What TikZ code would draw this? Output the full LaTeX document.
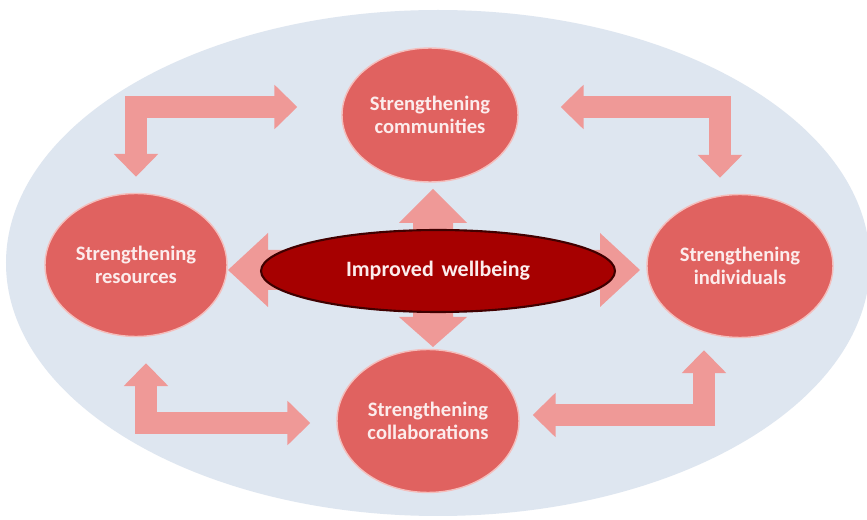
\documentclass[tikz,border=0pt]{standalone}
\usepackage{fontspec}
\setmainfont{Carlito}
\usetikzlibrary{arrows.meta}
\usetikzlibrary{calc}
\usetikzlibrary{positioning}
\usetikzlibrary{shapes.geometric}

\definecolor{backc}{RGB}{222,230,240}
\definecolor{hubc}{RGB}{224,98,96}
\definecolor{hubedge}{RGB}{244,190,188}
\definecolor{arrowc}{RGB}{239,153,151}
\definecolor{corec}{RGB}{166,0,0}
\definecolor{coreedge}{RGB}{64,0,0}
\definecolor{textc}{RGB}{252,236,236}

\begin{document}
\begin{tikzpicture}[x=0.02cm,y=-0.02cm,
		hub/.style={ellipse,fill=hubc,draw=hubedge,line width=0.8pt,minimum width=3.64cm,minimum height=2.86cm,inner sep=0pt,align=center,text=textc,font=\bfseries\fontsize{11.7}{13.2}\selectfont},
		link/.style={draw=arrowc,line width=13pt,{Triangle[width=24.5pt,length=13pt]}-{Triangle[width=24.5pt,length=13pt]}}]
		\fill [white] (0,0) rectangle (867,520);
		\useasboundingbox (0,0) rectangle (867,520);
		\fill [backc] (438,263) ellipse [x radius=432,y radius=253];

		\node [hub,minimum width=3.52cm,minimum height=2.68cm] (comm) at (430,115) {Strengthening\\communities};
		\node [hub] (res) at (136,265) {Strengthening\\resources};
		\node [hub,minimum width=3.72cm] (ind) at (740,266) {Strengthening\\individuals};
		\node [hub] (coll) at (428,421) {Strengthening\\collaborations};

		% four-way arrow behind the centre
		\foreach \ang/\len/\hl/\hw in {0/207/40/37,180/205/40/37,90/81/34/34,270/77/30/34}
			\fill [arrowc,shift={(433,270)},rotate=\ang] (0,-20) -- (\len-\hl,-20) -- (\len-\hl,-\hw) -- (\len,0) -- (\len-\hl,\hw) -- (\len-\hl,20) -- (0,20) -- cycle;

		\node [ellipse,fill=corec,draw=coreedge,line width=1.2pt,minimum width=7.08cm,minimum height=1.64cm,text=textc,font=\bfseries\fontsize{12.5}{14}\selectfont] (well) at (438,271) {Improved\hspace{0.35em}wellbeing};

		\draw [link] ($(comm.west)+(-44,-8)$) -| ($(res.north)+(0,-16)$);
		\draw [link] ($(comm.east)+(42,-8)$) -| ($(ind.north)+(-20,-16)$);
		\draw [link] ($(coll.west)+(-26,2)$) -| ($(res.south)+(10,26)$);
		\draw [link] ($(coll.east)+(13,-6)$) -| ($(ind.south)+(-36,12)$);
	\end{tikzpicture}
\end{document}
